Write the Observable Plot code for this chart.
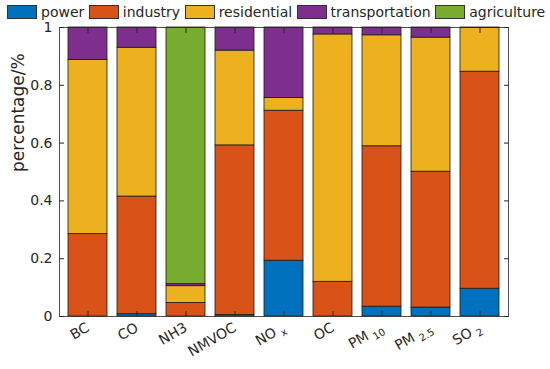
<!DOCTYPE html>
<html>
<head>
<meta charset="utf-8">
<script src="https://cdn.jsdelivr.net/npm/d3@7"></script>
<script src="https://cdn.jsdelivr.net/npm/@observablehq/plot@0.6"></script>
<style>
  body { margin: 0; background: white; }
  #wrap { position: relative; width: 550px; height: 369px; font-family: "DejaVu Sans", sans-serif; }
  #legend { position: absolute; top: 0px; left: 7px; height: 24px; display: flex; align-items: center; font-size: 14px; line-height: 15px; color: #262626; white-space: nowrap; }
  .item { display: flex; align-items: center; margin-right: 4.5px; }
  .sw { width: 28px; height: 12px; border: 1px solid #333; margin-right: 4px; box-sizing: content-box; }
</style>
</head>
<body>
<div id="wrap"><div id="legend"></div></div>
<script>
const categories = ["BC", "CO", "NH3", "NMVOC", "NOx", "OC", "PM10", "PM2.5", "SO2"];
const tickMain = ["BC", "CO", "NH3", "NMVOC", "NO", "OC", "PM", "PM", "SO"];
const tickSub = ["", "", "", "", "x", "", "10", "2.5", "2"];
const sectors = ["power", "industry", "residential", "transportation", "agriculture"];
const colors = ["#0072BD", "#D95319", "#EDB120", "#7E2F8E", "#77AC30"];
const power          = [0,     0.008, 0,     0.005, 0.193, 0,     0.034, 0.031, 0.096];
const industry       = [0.285, 0.407, 0.047, 0.587, 0.519, 0.120, 0.555, 0.470, 0.751];
const residential    = [0.603, 0.515, 0.058, 0.328, 0.044, 0.856, 0.384, 0.464, 0.151];
const transportation = [0.112, 0.070, 0.007, 0.080, 0.244, 0.024, 0.027, 0.035, 0.002];
const agriculture    = [0,     0,     0.888, 0,     0,     0,     0,     0,     0];
const yTicks = [0, 0.2, 0.4, 0.6, 0.8, 1];
const yTickLabels = ["0", "0.2", "0.4", "0.6", "0.8", "1"];
const yTitle = "percentage/%";

const series = [power, industry, residential, transportation, agriculture];
const data = categories.flatMap((c, i) => sectors.map((s, j) => ({category: c, sector: s, value: series[j][i]})))
  .filter(d => d.value > 0);

const chart = Plot.plot({
  width: 550, height: 369,
  marginLeft: 59, marginRight: 42, marginTop: 27, marginBottom: 53,
  style: {fontFamily: "DejaVu Sans", fontSize: "14px", color: "#262626", background: "white", overflow: "visible"},
  x: {domain: categories, paddingInner: 0.2, paddingOuter: 0.1, label: null},
  y: {domain: [0, 1], label: null},
  color: {domain: sectors, range: colors},
  marks: [
    Plot.barY(data, {x: "category", y: "value", fill: "sector", order: sectors, stroke: "#1a1a1a", strokeWidth: 0.8}),
    Plot.axisY(yTicks, {tickSize: 5, dx: 5, tickFormat: () => "", label: null}),
    Plot.axisY(yTicks, {anchor: "right", tickSize: 5, dx: -5, tickFormat: () => "", label: null}),
    Plot.axisX({anchor: "bottom", tickSize: 5, dy: -5, tickFormat: () => "", label: null}),
    Plot.axisX({anchor: "top", tickSize: 5, dy: 5, tickFormat: () => "", label: null}),
    Plot.axisY(yTicks, {tickSize: 0, tickPadding: 7, tickFormat: (d, i) => yTickLabels[i], label: null}),
    Plot.axisX({anchor: "bottom", tickSize: 0, tickPadding: 10, tickRotate: -30, tickFormat: (d) => tickMain[categories.indexOf(d)], label: null}),
    Plot.frame({stroke: "#262626", strokeWidth: 0.8}),
    Plot.text([yTitle], {frameAnchor: "left", rotate: -90, dx: -41, fontSize: 17, fill: "#262626"})
  ]
});
document.getElementById("wrap").appendChild(chart);

// subscripts on x tick labels
const texts = Array.from(chart.querySelectorAll('g[aria-label="x-axis tick label"] text')).filter(t => t.textContent.trim() !== "");
texts.forEach((t, i) => {
  if (tickSub[i]) {
    const sub = document.createElementNS("http://www.w3.org/2000/svg", "tspan");
    sub.setAttribute("font-size", "10");
    sub.setAttribute("dx", "4");
    sub.setAttribute("dy", "4");
    sub.textContent = tickSub[i];
    t.appendChild(sub);
  }
});

// legend
const legend = document.getElementById("legend");
sectors.forEach((s, i) => {
  const it = document.createElement("div");
  it.className = "item";
  const sw = document.createElement("div");
  sw.className = "sw";
  sw.style.background = colors[i];
  const lab = document.createElement("span");
  lab.textContent = s;
  it.appendChild(sw);
  it.appendChild(lab);
  legend.appendChild(it);
});
document.getElementById("wrap").appendChild(legend);
</script>
</body>
</html>
